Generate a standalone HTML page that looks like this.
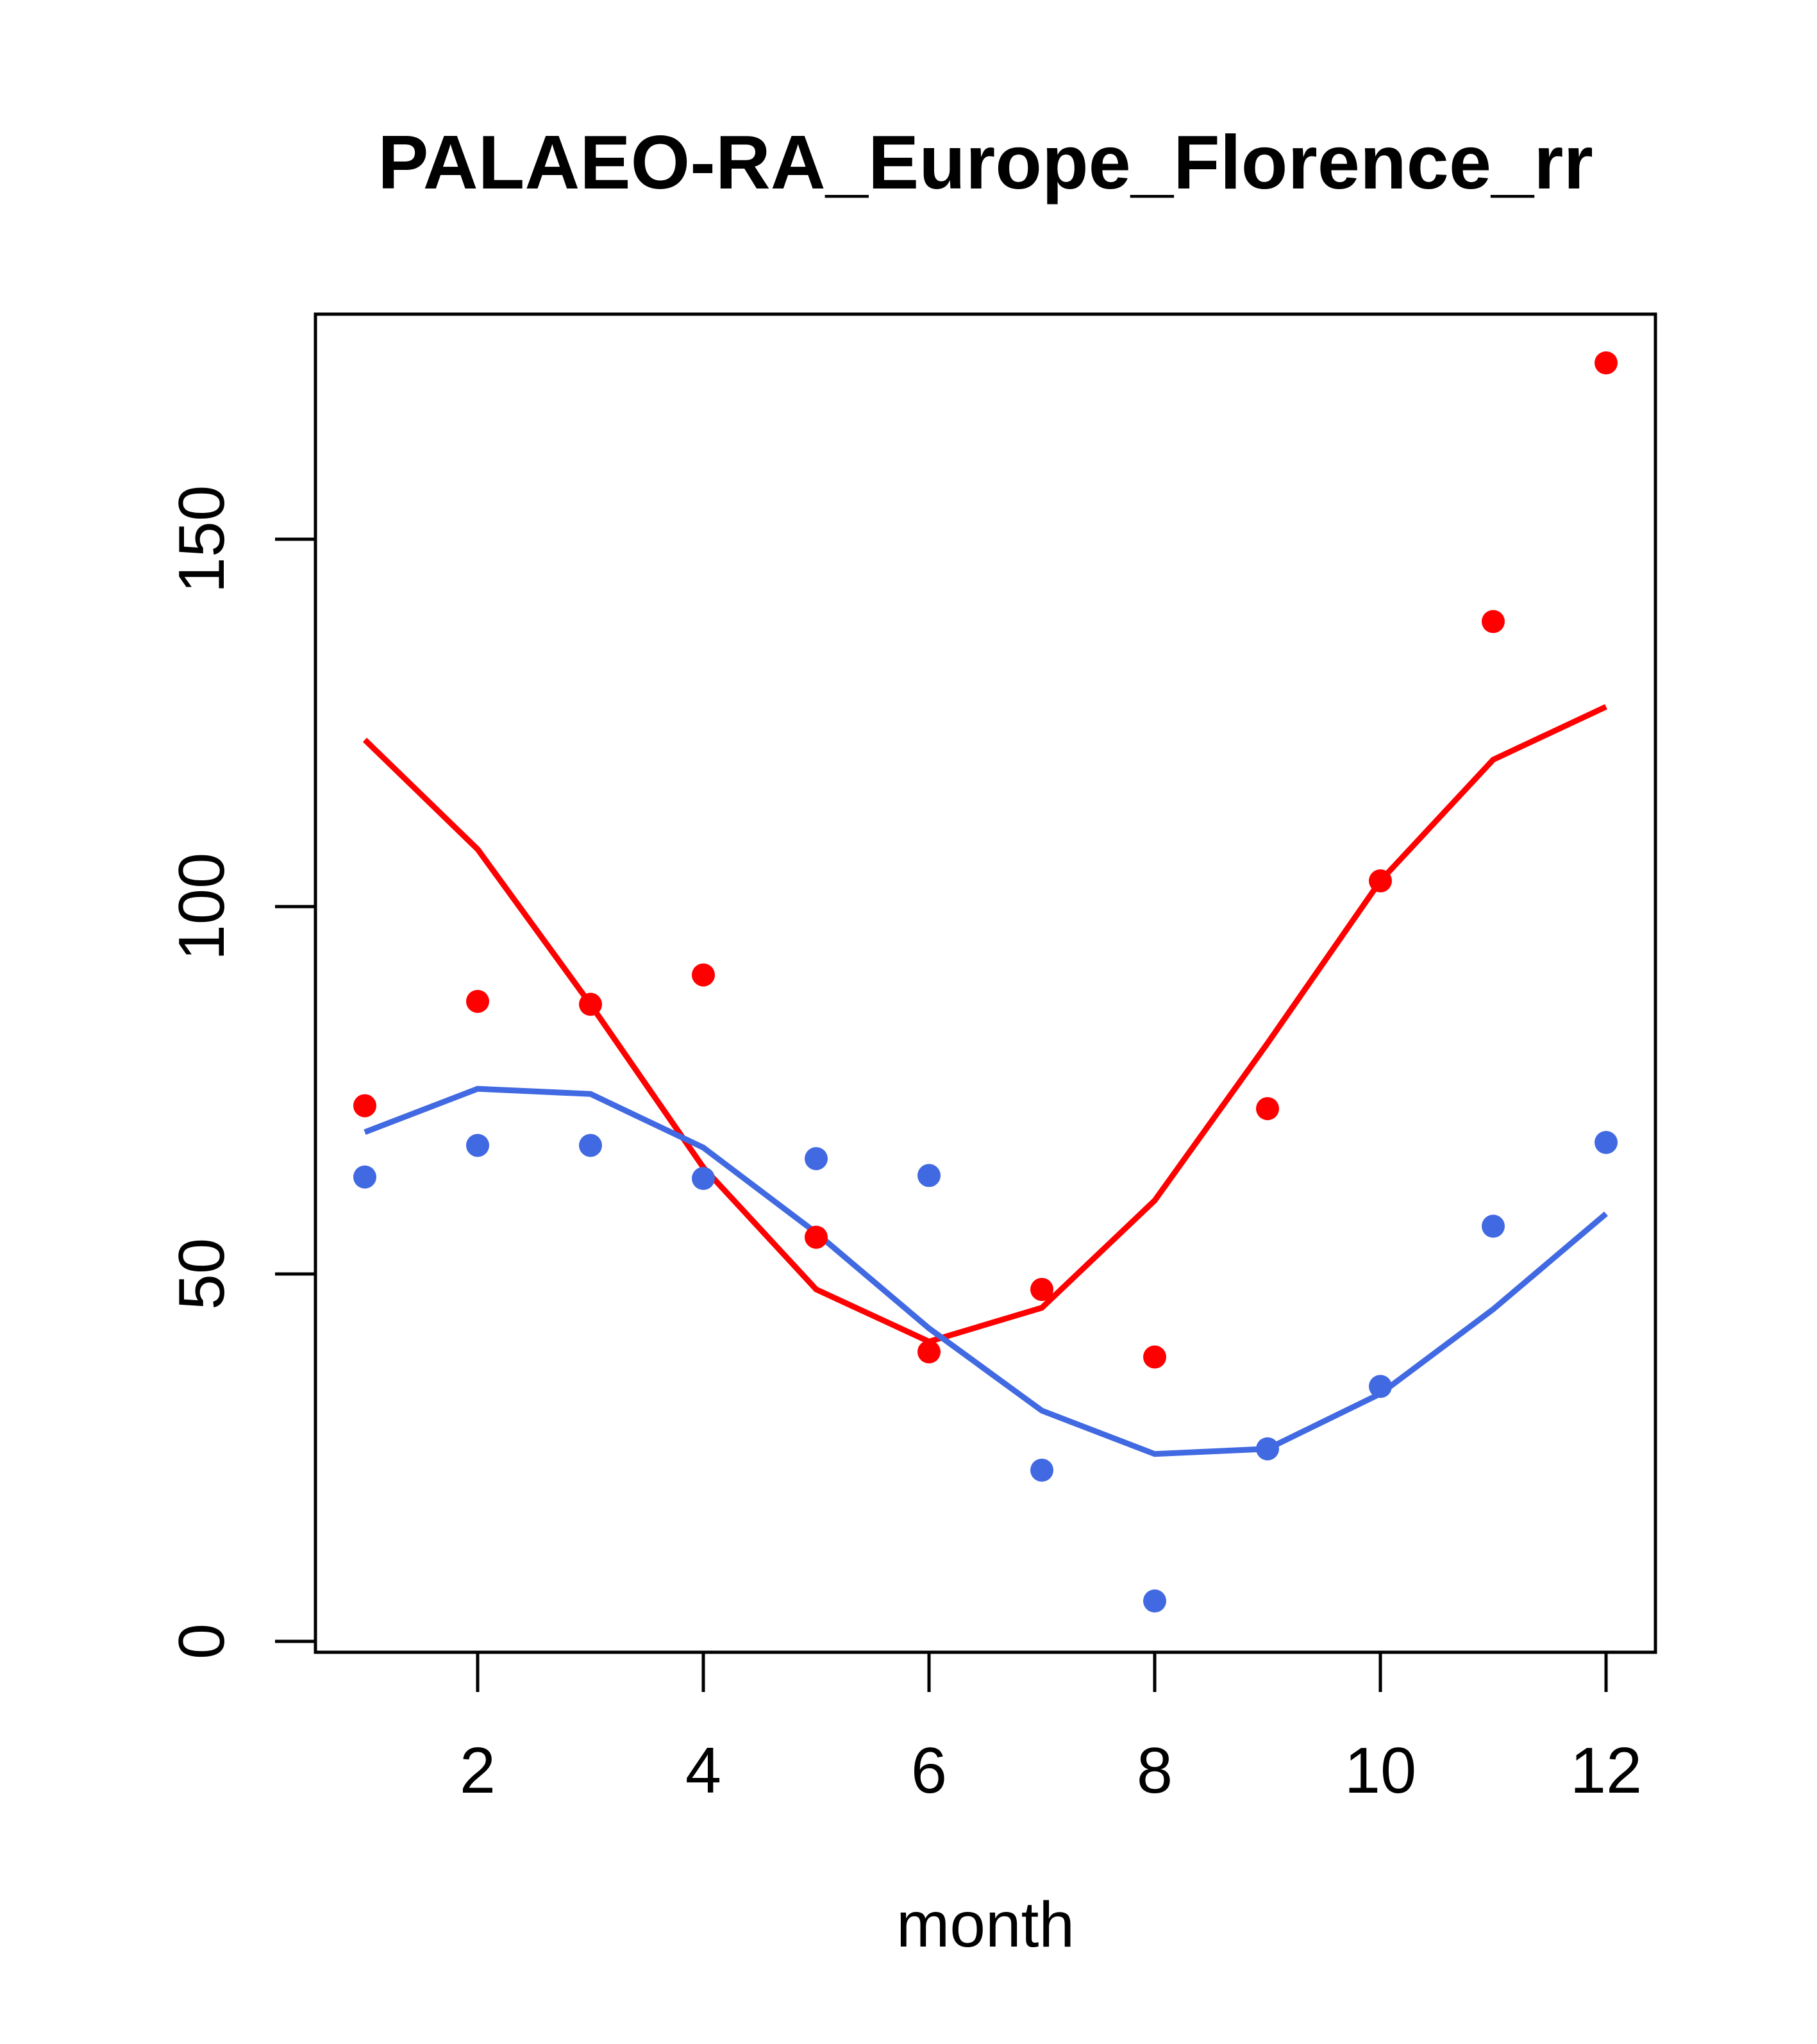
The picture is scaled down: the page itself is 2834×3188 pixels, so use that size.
<!DOCTYPE html>
<html><head><meta charset="utf-8"><style>
html,body{margin:0;padding:0;background:#fff;}
svg{display:block;font-family:"Liberation Sans",Arial,sans-serif;}
</style></head><body>
<svg id="chart" width="2834" height="3188" viewBox="0 0 2834 3188" xmlns="http://www.w3.org/2000/svg">
<rect width="2834" height="3188" fill="#fff"/>
<text x="1537" y="294" text-anchor="middle" font-size="119" font-weight="bold">PALAEO-RA_Europe_Florence_rr</text>
<text x="1537" y="3036" text-anchor="middle" font-size="100">month</text>
<rect x="492" y="490" width="2090" height="2087" fill="none" stroke="#000" stroke-width="5"/>
<g id="gx"></g>
<g id="gy"></g>
<g id="series"></g>
</svg>
<script>
const months = [1,2,3,4,5,6,7,8,9,10,11,12];
const redPoints = [72.9,87.1,86.7,90.7,55,39.4,47.9,38.7,72.5,103.5,138.8,174];
const redLine = [122.7,107.8,86.7,64.5,47.9,40.8,45.4,60,81.4,103.5,120,127.2];
const bluePoints = [63.2,67.5,67.5,63,65.7,63.4,23.3,5.5,26.2,34.7,56.5,67.9];
const blueLine = [69.3,75.2,74.5,67.2,55.6,42.6,31.4,25.5,26.2,33.7,45.2,58.2];
const xTicks = [2,4,6,8,10,12];
const yTicks = [0,50,100,150];

const NS = "http://www.w3.org/2000/svg";
function sx(m){ return 569 + (m-1)*176; }
function sy(v){ return 2560 - v*11.46; }
function mk(tag, attrs, parent){
  const e = document.createElementNS(NS, tag);
  for (const k in attrs) e.setAttribute(k, attrs[k]);
  parent.appendChild(e);
  return e;
}
const gx = document.getElementById('gx'), gy = document.getElementById('gy'), gs = document.getElementById('series');
xTicks.forEach(t => {
  const l = mk('line', {x1:sx(t), x2:sx(t), y1:2577, y2:2639, stroke:'#000', 'stroke-width':5}, gx);
  
  
  const tx = mk('text', {x:sx(t), y:2796, 'text-anchor':'middle', 'font-size':101}, gx);
  tx.textContent = t;
  
  
});
yTicks.forEach(t => {
  const l = mk('line', {x1:429, x2:492, y1:sy(t), y2:sy(t), stroke:'#000', 'stroke-width':5}, gy);
  
  
  const tx = mk('text', {x:0, y:0, 'text-anchor':'middle', 'font-size':101, transform:'translate(349,'+sy(t)+') rotate(-90)'}, gy);
  tx.textContent = t;
  
  
});
function line(vals, color, name){
  const p = mk('polyline', {points: vals.map((v,i)=>sx(months[i])+','+sy(v)).join(' '), fill:'none', stroke:color, 'stroke-width':9}, gs);
  
  
}
function pts(vals, color, name){
  vals.forEach((v,i) => {
    const c = mk('circle', {cx:sx(months[i]), cy:sy(v), r:18, fill:color}, gs);
    
    
  });
}
line(redLine, '#ff0000', 'red-line');
line(blueLine, '#4169e1', 'blue-line');
pts(redPoints, '#ff0000', 'red-point');
pts(bluePoints, '#4169e1', 'blue-point');
</script>
</body></html>
